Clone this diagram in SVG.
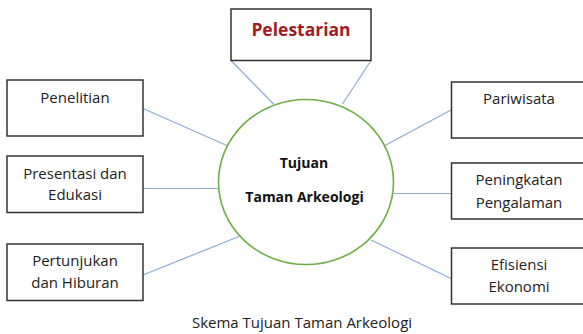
<svg xmlns="http://www.w3.org/2000/svg" width="583" height="334" viewBox="0 0 583 334">
<style>
.box{fill:#fff;stroke:#333;stroke-width:1.5}
.lbl{font-family:"Open Sans","Noto Sans",sans-serif;font-size:15px;fill:#222;text-anchor:middle}
.bold{font-family:"Open Sans","Noto Sans",sans-serif;font-weight:bold;fill:#111;text-anchor:middle}
.con{stroke:#8eaad2;stroke-width:1.2;fill:none}
</style>
<rect width="583" height="334" fill="#fff"/>
<g id="connectors">
<line class="con" x1="231" y1="60.5" x2="273.5" y2="104"/>
<line class="con" x1="371" y1="60.5" x2="342.5" y2="104"/>
<line class="con" x1="143" y1="108.5" x2="228" y2="146"/>
<line class="con" x1="451" y1="110" x2="384" y2="146"/>
<line class="con" x1="143" y1="188.5" x2="218.5" y2="188.5"/>
<line class="con" x1="393" y1="193.5" x2="451" y2="193.5"/>
<line class="con" x1="143" y1="275" x2="239" y2="236.5"/>
<line class="con" x1="371" y1="240" x2="451" y2="278.5"/>
</g>
<g id="center">
<ellipse cx="306" cy="182" rx="87.5" ry="82.5" fill="#fff" stroke="#70ad47" stroke-width="1.6"/>
<text class="bold" x="304" y="168" font-size="14">Tujuan</text>
<text class="bold" x="304.5" y="201.5" font-size="14">Taman Arkeologi</text>
</g>
<g id="pelestarian">
<rect class="box" x="231" y="9" width="140" height="51.5"/>
<text class="bold" x="301" y="35.5" font-size="17.5" fill="#a31a1f" style="fill:#a31a1f">Pelestarian</text>
</g>
<g id="penelitian">
<rect class="box" x="7" y="80" width="136" height="56"/>
<text class="lbl" x="75" y="103">Penelitian</text>
</g>
<g id="presentasi">
<rect class="box" x="7" y="156" width="136" height="56.5"/>
<text class="lbl" x="75" y="178.5">Presentasi dan</text>
<text class="lbl" x="75" y="200">Edukasi</text>
</g>
<g id="pertunjukan">
<rect class="box" x="7" y="244" width="136" height="56.5"/>
<text class="lbl" x="75" y="266">Pertunjukan</text>
<text class="lbl" x="75" y="288">dan Hiburan</text>
</g>
<g id="pariwisata">
<rect class="box" x="451.5" y="82" width="140" height="56"/>
<text class="lbl" x="519" y="104">Pariwisata</text>
</g>
<g id="peningkatan">
<rect class="box" x="451.5" y="163" width="140" height="56"/>
<text class="lbl" x="519" y="185">Peningkatan</text>
<text class="lbl" x="519" y="207.5">Pengalaman</text>
</g>
<g id="efisiensi">
<rect class="box" x="451.5" y="248" width="140" height="56"/>
<text class="lbl" x="519" y="270">Efisiensi</text>
<text class="lbl" x="519" y="291.5">Ekonomi</text>
</g>
<text class="lbl" x="302" y="327.5">Skema Tujuan Taman Arkeologi</text>
</svg>
